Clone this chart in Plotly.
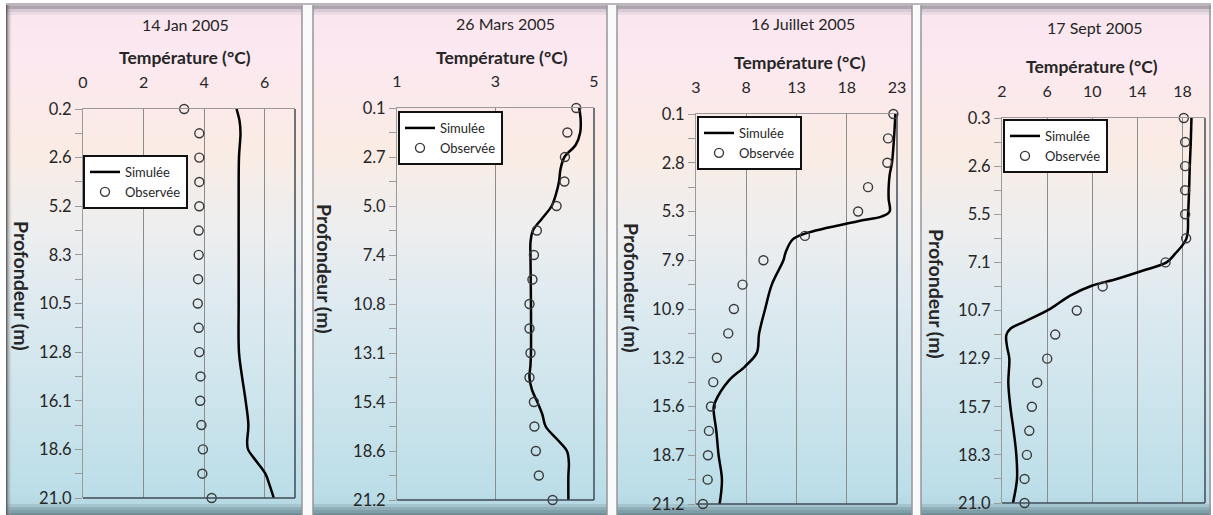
import plotly.graph_objects as go

W, H = 1213, 515

# ---- data (depth axis is categorical: 17 levels, labels on every other one)
dates = ["14 Jan 2005", "26 Mars 2005", "16 Juillet 2005", "17 Sept 2005"]

depth_jan = ["0.2", "2.6", "5.2", "8.3", "10.5", "12.8", "16.1", "18.6", "21.0"]
depth_mar = ["0.1", "2.7", "5.0", "7.4", "10.8", "13.1", "15.4", "18.6", "21.2"]
depth_jul = ["0.1", "2.8", "5.3", "7.9", "10.9", "13.2", "15.6", "18.7", "21.2"]
depth_sep = ["0.3", "2.6", "5.5", "7.1", "10.7", "12.9", "15.7", "18.3", "21.0"]

obs_jan = [3.34, 3.84, 3.84, 3.84, 3.84, 3.82, 3.82, 3.80, 3.79, 3.82, 3.84, 3.88, 3.87, 3.91, 3.96, 3.94, 4.25]
obs_mar = [4.64, 4.46, 4.41, 4.40, 4.24, 3.84, 3.78, 3.75, 3.69, 3.69, 3.71, 3.69, 3.78, 3.79, 3.82, 3.88, 4.16]
obs_jul = [22.64, 22.11, 22.04, 20.12, 19.13, 13.84, 9.71, 7.63, 6.77, 6.21, 5.08, 4.72, 4.49, 4.29, 4.19, 4.16, 3.69]
obs_sep = [18.12, 18.24, 18.24, 18.24, 18.24, 18.33, 16.5, 10.93, 8.63, 6.72, 6.01, 5.12, 4.65, 4.42, 4.21, 4.0, 4.0]

sim_jan_pos = [0, 0.5, 1, 2, 4, 6, 8, 10, 11, 12, 13, 13.7, 14, 14.5, 15, 15.5, 16]
sim_jan = [5.07, 5.17, 5.20, 5.15, 5.14, 5.14, 5.14, 5.15, 5.25, 5.37, 5.46, 5.42, 5.45, 5.73, 6.02, 6.17, 6.30]

sim_mar_pos = [0, 0.5, 1, 1.5, 2, 2.5, 3, 3.5, 4, 4.5, 5, 5.5, 6, 8, 10, 10.5, 11, 11.5, 12, 12.5, 13, 13.5, 14, 14.5, 15, 16]
sim_mar = [4.70, 4.73, 4.72, 4.63, 4.40, 4.32, 4.29, 4.23, 4.14, 3.95, 3.76, 3.71, 3.71, 3.72, 3.72, 3.71, 3.69, 3.74, 3.85, 3.95, 4.02, 4.24, 4.45, 4.49, 4.48, 4.48]

sim_jul_pos = [0, 1, 2, 2.5, 3, 3.5, 4, 4.2, 4.4, 4.9, 5.15, 5.7, 6, 7, 8, 9, 9.8, 10.35, 10.95, 11.8, 12.05, 13, 14, 15, 16]
sim_jul = [22.84, 22.7, 22.5, 22.27, 22.17, 22.17, 22.27, 21.5, 19.1, 13.9, 12.6, 11.9, 11.7, 10.54, 9.88, 9.28, 9.05, 7.89, 6.24, 4.92, 4.75, 5.02, 5.25, 5.58, 5.35]

sim_sep_pos = [0, 1, 2, 3, 4, 5, 5.66, 6, 6.34, 6.69, 6.97, 7.38, 7.93, 8.48, 8.76, 9.03, 9.5, 10, 11, 12, 13, 14, 15, 16]
sim_sep = [18.8, 18.74, 18.65, 18.59, 18.5, 18.36, 17.32, 16.59, 14.52, 12.17, 9.96, 8.04, 6.27, 3.92, 2.74, 2.38, 2.45, 2.65, 2.56, 2.74, 3.03, 3.27, 3.33, 2.97]

temp_ranges = [(0, 7, 2, 0), (1, 5, 2, 1), (3, 23, 5, 3), (2, 20, 4, 2)]

panels = [
    (depth_jan, obs_jan, sim_jan_pos, sim_jan),
    (depth_mar, obs_mar, sim_mar_pos, sim_mar),
    (depth_jul, obs_jul, sim_jul_pos, sim_jul),
    (depth_sep, obs_sep, sim_sep_pos, sim_sep),
]

# ---- layout geometry (pixels)
boxes = [(83, 295, 109, 498), (397, 594, 108, 500), (696, 897, 114, 504), (1002, 1205, 118, 503)]
legend_pos = [(83, 155), (398, 111), (697, 116), (1003, 119)]
title_pos = [(185, 25), (505, 23), (803, 23), (1095, 27)]
xtitle_pos = [(185, 57), (502, 57), (800, 62), (1092, 66)]
ytitle_pos = [(22, 286), (325, 269), (632, 288), (937, 294)]

def fx(p):
    return p / W

def fy(p):
    return 1 - p / H

TXT = "#262626"
FONT = "Lato"

fig = go.Figure()
shapes = []
annotations = []

# ---- background gradient (pink top -> light blue bottom)
stops = [(0, (255, 255, 255)), (4, (255, 255, 255)), (5, (120, 110, 120)), (9, (205, 195, 205)),
         (16, (250, 230, 238)), (60, (252, 232, 240)), (150, (250, 236, 228)),
         (230, (237, 238, 239)), (300, (222, 234, 240)), (400, (205, 228, 236)),
         (490, (188, 222, 232)), (503, (182, 217, 228)), (509, (140, 170, 180)), (515, (110, 140, 150))]

def col_at(y):
    for (y0, c0), (y1, c1) in zip(stops[:-1], stops[1:]):
        if y0 <= y <= y1:
            t = 0 if y1 == y0 else (y - y0) / (y1 - y0)
            return "rgb(%d,%d,%d)" % tuple(round(a + (b - a) * t) for a, b in zip(c0, c1))
    return "rgb(110,140,150)"

step = 3
for y in range(0, H, step):
    shapes.append(dict(type="rect", xref="paper", yref="paper", layer="below",
                       x0=fx(6), x1=fx(1211), y0=fy(y + step), y1=fy(y),
                       fillcolor=col_at(y + step / 2), line=dict(width=0)))

# left-edge shadow
for i, c in enumerate(["rgba(90,90,90,0.9)", "rgba(110,110,110,0.7)", "rgba(130,130,130,0.5)",
                       "rgba(150,150,150,0.35)", "rgba(170,170,170,0.2)", "rgba(190,190,190,0.1)"]):
    shapes.append(dict(type="rect", xref="paper", yref="paper", layer="below",
                       x0=fx(6 + i), x1=fx(7 + i), y0=0, y1=fy(5),
                       fillcolor=c, line=dict(width=0)))

# separators between panels
for a, b in [(302, 313), (607, 617), (912, 921)]:
    shapes.append(dict(type="rect", xref="paper", yref="paper", layer="below",
                       x0=fx(a), x1=fx(b), y0=0, y1=fy(5),
                       fillcolor="rgb(250,250,250)", line=dict(width=0)))
    for xl in (a, b):
        shapes.append(dict(type="line", xref="paper", yref="paper", layer="below",
                           x0=fx(xl), x1=fx(xl), y0=0, y1=fy(5),
                           line=dict(color="rgb(150,150,155)", width=1.5)))
shapes.append(dict(type="line", xref="paper", yref="paper", layer="below",
                   x0=fx(1210), x1=fx(1210), y0=0, y1=fy(5),
                   line=dict(color="rgb(150,150,155)", width=1.5)))

for i, (depths, obs, spos, sim) in enumerate(panels):
    n = i + 1
    xa = "x" if n == 1 else "x%d" % n
    ya = "y" if n == 1 else "y%d" % n
    lg = "legend" if n == 1 else "legend%d" % n
    fig.add_trace(go.Scatter(
        x=sim, y=spos, xaxis=xa, yaxis=ya, mode="lines", name="Simulée",
        line=dict(color="black", width=2.5, shape="spline", smoothing=1.0),
        legend=lg, cliponaxis=False))
    fig.add_trace(go.Scatter(
        x=obs, y=list(range(len(obs))), xaxis=xa, yaxis=ya, mode="markers", name="Observée",
        marker=dict(symbol="circle-open", size=9, color="#3a3a3a", line=dict(width=1.4)),
        legend=lg, cliponaxis=False))

    x0p, x1p, y0p, y1p = boxes[i]
    lo, hi, dt, t0 = temp_ranges[i]
    ticktext = []
    for k in range(17):
        ticktext.append(depths[k // 2] if k % 2 == 0 else "")
    xkey = "xaxis" if n == 1 else "xaxis%d" % n
    ykey = "yaxis" if n == 1 else "yaxis%d" % n
    fig.layout[xkey] = dict(
        domain=[fx(x0p), fx(x1p)], anchor=ya, side="top", range=[lo, hi],
        tick0=t0, dtick=dt, showgrid=True, gridcolor="#8c8c8c", gridwidth=1,
        zeroline=False, showline=True, linecolor="#9a9a9a", linewidth=1,
        ticks="", ticklabelstandoff=14, automargin=False,
        tickfont=dict(family=FONT, size=16, color=TXT), fixedrange=True)
    fig.layout[ykey] = dict(
        domain=[fy(y1p), fy(y0p)], anchor=xa, range=[16, 0],
        tickmode="array", tickvals=list(range(17)), ticktext=ticktext,
        ticks="outside", ticklen=7, tickcolor="#9a9a9a", tickwidth=1,
        showgrid=False, zeroline=False, showline=True, linecolor="#9a9a9a", linewidth=1,
        automargin=False,
        tickfont=dict(family=FONT, size=16.5, color=TXT), fixedrange=True)

    # dark right and bottom frame
    shapes.append(dict(type="line", xref=xa + " domain", yref=ya + " domain",
                       x0=1, x1=1, y0=0, y1=1, line=dict(color="#3f4b57", width=1.5)))
    shapes.append(dict(type="line", xref=xa + " domain", yref=ya + " domain",
                       x0=0, x1=1, y0=0, y1=0, line=dict(color="#3f4b57", width=1.5)))

    lx, ly = legend_pos[i]
    fig.layout[lg] = dict(
        x=fx(lx), y=fy(ly), xanchor="left", yanchor="top", xref="paper", yref="paper",
        bgcolor="white", bordercolor="#111111", borderwidth=2,
        font=dict(family=FONT, size=13, color=TXT), tracegroupgap=0, itemwidth=30)

    tx, ty = title_pos[i]
    annotations.append(dict(text=dates[i], x=fx(tx), y=fy(ty), xref="paper", yref="paper",
                            showarrow=False, xanchor="center", yanchor="middle",
                            font=dict(family=FONT, size=16, color=TXT)))
    tx, ty = xtitle_pos[i]
    annotations.append(dict(text="<b>Température (°C)</b>", x=fx(tx), y=fy(ty), xref="paper", yref="paper",
                            showarrow=False, xanchor="center", yanchor="middle",
                            font=dict(family=FONT, size=17.5, color=TXT)))
    tx, ty = ytitle_pos[i]
    annotations.append(dict(text="<b>Profondeur (m)</b>", x=fx(tx), y=fy(ty), xref="paper", yref="paper",
                            showarrow=False, xanchor="center", yanchor="middle", textangle=90,
                            font=dict(family=FONT, size=19.5, color=TXT)))

fig.update_layout(
    width=W, height=H, margin=dict(l=0, r=0, t=0, b=0),
    paper_bgcolor="white", plot_bgcolor="rgba(0,0,0,0)",
    shapes=shapes, annotations=annotations, showlegend=True,
    font=dict(family=FONT, color=TXT),
)

# drop the page's default body margin so the figure fills the window
fig.write_html("out.html", config={"displayModeBar": False},
               post_script="document.body.style.margin='0';")
